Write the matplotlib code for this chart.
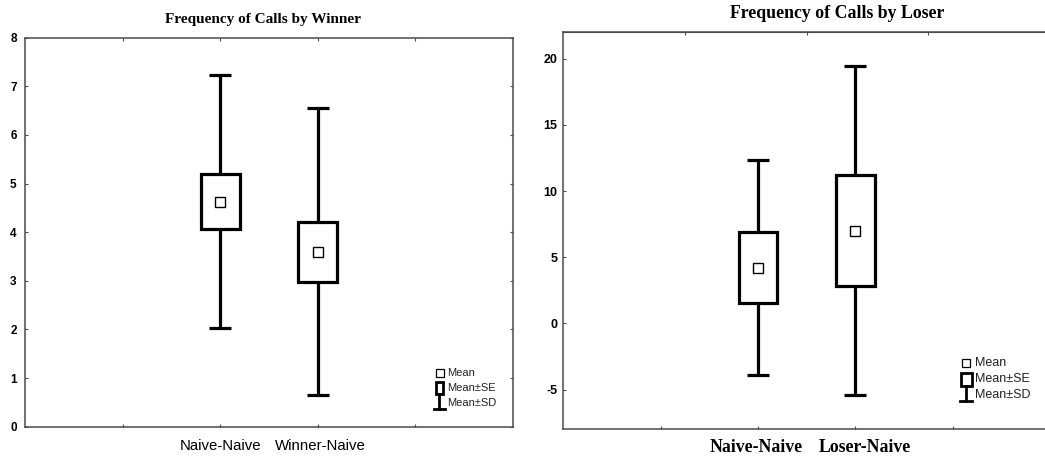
import matplotlib
matplotlib.use("Agg")
import matplotlib.pyplot as plt
from matplotlib.patches import Rectangle
from matplotlib.lines import Line2D
from matplotlib.transforms import ScaledTranslation

# Group labels
winner_groups = ["Naive-Naive", "Winner-Naive"]
loser_groups = ["Naive-Naive", "Loser-Naive"]

# Call frequency summaries: mean, standard error, standard deviation
winner_mean = [4.63, 3.595]
winner_se = [0.56, 0.625]
winner_sd = [2.60, 2.95]

loser_mean = [4.22, 7.00]
loser_se = [2.68, 4.18]
loser_sd = [8.13, 12.44]

winner_yticks = [0, 1, 2, 3, 4, 5, 6, 7, 8]
loser_yticks = [-5, 0, 5, 10, 15, 20]

W, H = 1045, 459
DPI = 100
fig = plt.figure(figsize=(W / DPI, H / DPI), dpi=DPI)
fig.patch.set_facecolor("white")

SPINE = "#4a4a4a"
LW = 2.3


def px(x, y):
    """Canvas pixel -> figure fraction."""
    return x / W, 1 - y / H


def make_axes(left, top, right, bottom):
    x0, y1 = px(left, top)
    x1, y0 = px(right, bottom)
    return fig.add_axes([x0, y0, x1 - x0, y1 - y0])


def draw_groups(ax, means, ses, sds):
    pos = [2, 3]
    ax.errorbar(pos, means, yerr=sds, fmt="none", ecolor="black",
                elinewidth=LW, capsize=7.6, capthick=LW, zorder=2)
    bottoms = [m - s for m, s in zip(means, ses)]
    heights = [2 * s for s in ses]
    ax.bar(pos, heights, bottom=bottoms, width=0.4, facecolor="white",
           edgecolor="black", linewidth=LW, zorder=3)
    ax.plot(pos, means, linestyle="none", marker="s", markersize=6.5,
            markerfacecolor="white", markeredgecolor="black",
            markeredgewidth=1.0, zorder=4)


def style_axes(ax):
    for s in ax.spines.values():
        s.set_color(SPINE)
        s.set_linewidth(1.1)
    ax.set_xlim(0, 5)


def shift_label(ax, index, dx_px):
    lbl = ax.get_xticklabels()[index]
    lbl.set_transform(lbl.get_transform()
                      + ScaledTranslation(dx_px / DPI, 0, fig.dpi_scale_trans))


def legend_block(sq, box, bar, tx, ys, fs):
    """Statistica-style key: mean square, SE box, SD whisker."""
    # mean square
    fig.add_artist(Line2D([px(*sq)[0]], [px(*sq)[1]], marker="s",
                          markersize=5.5, markerfacecolor="white",
                          markeredgecolor="black", markeredgewidth=0.9,
                          linestyle="none", transform=fig.transFigure))
    # SE box
    bx0, by1 = px(box[0], box[1])
    bx1, by0 = px(box[2], box[3])
    fig.add_artist(Rectangle((bx0, by0), bx1 - bx0, by1 - by0,
                             facecolor="white", edgecolor="black",
                             linewidth=2.0, transform=fig.transFigure))
    # SD whisker with a cap
    cx, ytop, ybot, c0, c1 = bar
    fig.add_artist(Line2D([px(cx, ytop)[0]] * 2,
                          [px(cx, ytop)[1], px(cx, ybot)[1]],
                          color="black", linewidth=2.0,
                          transform=fig.transFigure))
    fig.add_artist(Line2D([px(c0, ybot)[0], px(c1, ybot)[0]],
                          [px(c0, ybot)[1]] * 2,
                          color="black", linewidth=2.0,
                          transform=fig.transFigure))
    for label, y in zip(["Mean", "Mean±SE", "Mean±SD"], ys):
        x, yy = px(tx, y)
        fig.text(x, yy, label, ha="left", va="center", fontsize=fs,
                 family="Liberation Sans", color="#222222")


# ---- Left panel: winner ----
ax1 = make_axes(25, 37.7, 513, 426.7)
style_axes(ax1)
draw_groups(ax1, winner_mean, winner_se, winner_sd)
ax1.set_ylim(0, 8)
ax1.set_yticks(winner_yticks)
ax1.set_yticklabels([str(v) for v in winner_yticks],
                    fontsize=8.5, fontweight="bold", family="Liberation Sans")
ax1.set_xticks([1, 2, 3, 4])
ax1.set_xticklabels(["", winner_groups[0], winner_groups[1], ""],
                    fontsize=10.8, family="Liberation Sans")
ax1.tick_params(axis="both", direction="in", length=2.5, width=0.8,
                color=SPINE, top=True, right=True)
ax1.tick_params(axis="x", pad=9)
ax1.tick_params(axis="y", pad=6)
shift_label(ax1, 2, 3)
tx, ty = px(263, 19)
fig.text(tx, ty, "Frequency of Calls by Winner", ha="center", va="center",
         fontsize=11, fontweight="bold", family="Liberation Serif")
legend_block((439.5, 372.7), (435.5, 381.5, 443, 393.5),
             (439.3, 393.5, 409, 434, 444.5), 447, [372.7, 388, 403], 8)

# ---- Right panel: loser ----
ax2 = make_axes(563.3, 32.3, 1050, 429.3)
style_axes(ax2)
draw_groups(ax2, loser_mean, loser_se, loser_sd)
ax2.set_ylim(-8, 22)
ax2.set_yticks(loser_yticks)
ax2.set_yticklabels([str(v) for v in loser_yticks],
                    fontsize=9, fontweight="bold", family="Liberation Sans")
ax2.set_xticks([1, 2, 3, 4])
ax2.set_xticklabels(["", loser_groups[0], loser_groups[1], ""],
                    fontsize=12.8, fontweight="bold",
                    family="Liberation Serif")
ax2.tick_params(axis="both", direction="in", length=2.5, width=0.8,
                color=SPINE)
ax2.tick_params(axis="x", pad=7)
ax2.tick_params(axis="y", pad=4)
shift_label(ax2, 1, -2)
shift_label(ax2, 2, 10)
top2 = ax2.secondary_xaxis("top")
top2.set_xticks([1.25, 2.5, 3.75])
top2.set_xticklabels([])
top2.tick_params(direction="in", length=2.5, width=0.8, color=SPINE)
top2.spines["top"].set_color(SPINE)
tx, ty = px(837.5, 13.3)
fig.text(tx, ty, "Frequency of Calls by Loser", ha="center", va="center",
         fontsize=12.8, fontweight="bold", family="Liberation Serif")
legend_block((966, 363), (961, 372.7, 971.5, 386),
             (966, 386, 400.7, 960, 972.3), 975, [363, 379.3, 395], 9)

fig.savefig("out.png", dpi=DPI, facecolor="white")
